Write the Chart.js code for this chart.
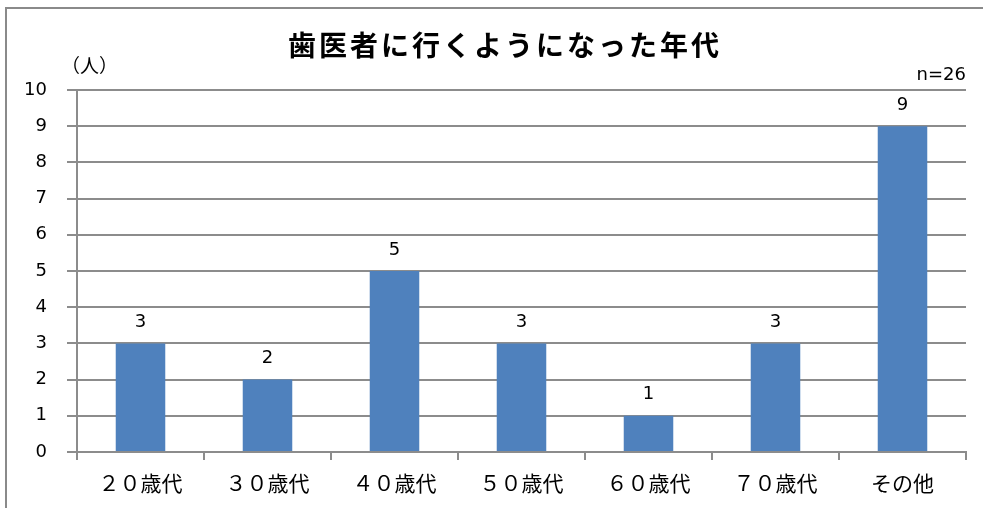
<!DOCTYPE html>
<html lang="ja">
<head>
    <meta charset="UTF-8">
    <title>歯医者に行くようになった年代</title>
    <script src="https://cdn.jsdelivr.net/npm/chart.js"></script>
    <style>
        body { margin: 0; padding: 0; background: #fff; }
        #wrap { position: relative; width: 983px; height: 508px; }
        #frame {
            position: absolute; left: 5px; top: 7px; right: 0; bottom: 0;
            border-left: 2px solid #8a8a8a; border-top: 2px solid #8a8a8a;
        }
        canvas { position: absolute; left: 0; top: 0; }
    </style>
</head>
<body>
<div id="wrap">
    <div id="frame"></div>
    <canvas id="barChart" width="983" height="508"></canvas>
</div>
<script>
    // data
    const titleText = '歯医者に行くようになった年代';
    const unitText = '（人）';
    const noteText = 'n=26';
    const categories = ['２０歳代', '３０歳代', '４０歳代', '５０歳代', '６０歳代', '７０歳代', 'その他'];
    const counts = [3, 2, 5, 3, 1, 3, 9];

    const jpFont = '"Noto Sans CJK JP", "Noto Sans", sans-serif';
    const numFont = '"DejaVu Sans", Verdana, sans-serif';

    // title, unit, n= and value labels
    const textPlugin = {
        id: 'texts',
        afterDatasetsDraw(chart) {
            const ctx = chart.ctx;
            ctx.save();
            ctx.fillStyle = '#000';
            ctx.textBaseline = 'middle';

            ctx.font = 'bold 28px ' + jpFont;
            ctx.letterSpacing = '3px';
            ctx.textAlign = 'center';
            ctx.fillText(titleText, 505, 45);
            ctx.letterSpacing = '0px';

            ctx.font = '19px ' + jpFont;
            ctx.textAlign = 'left';
            ctx.fillText(unitText, 61, 66);

            ctx.font = '18px ' + numFont;
            ctx.textAlign = 'right';
            ctx.fillText(noteText, 966, 75);

            ctx.font = '18px ' + numFont;
            ctx.textAlign = 'center';
            chart.getDatasetMeta(0).data.forEach((bar, i) => {
                ctx.fillText(String(counts[i]), bar.x, bar.y - 21);
            });
            ctx.restore();
        }
    };

    new Chart(document.getElementById('barChart').getContext('2d'), {
        type: 'bar',
        data: {
            labels: categories,
            datasets: [{
                data: counts,
                backgroundColor: '#4f81bd',
                borderWidth: 0,
                categoryPercentage: 1,
                barPercentage: 0.39
            }]
        },
        options: {
            responsive: false,
            animation: false,
            layout: { padding: { top: 90, left: 0, right: 17, bottom: 0 } },
            plugins: {
                legend: { display: false },
                title: { display: false },
                tooltip: { enabled: false }
            },
            scales: {
                y: {
                    min: 0,
                    max: 10,
                    afterFit(scale) { scale.width = 77; },
                    ticks: {
                        stepSize: 1,
                        color: '#000',
                        padding: 20,
                        font: { family: numFont, size: 18 }
                    },
                    grid: { color: '#8c8c8c', lineWidth: 2, tickLength: 10 },
                    border: { color: '#8c8c8c', width: 2 }
                },
                x: {
                    afterFit(scale) { scale.height = 56; },
                    ticks: {
                        color: '#000',
                        padding: 10,
                        font: { family: jpFont, size: 21 }
                    },
                    grid: {
                        offset: true,
                        drawOnChartArea: false,
                        color: '#8c8c8c',
                        lineWidth: 2,
                        tickLength: 8
                    },
                    border: { color: '#8c8c8c', width: 2 }
                }
            }
        },
        plugins: [textPlugin]
    });
</script>
</body>
</html>
